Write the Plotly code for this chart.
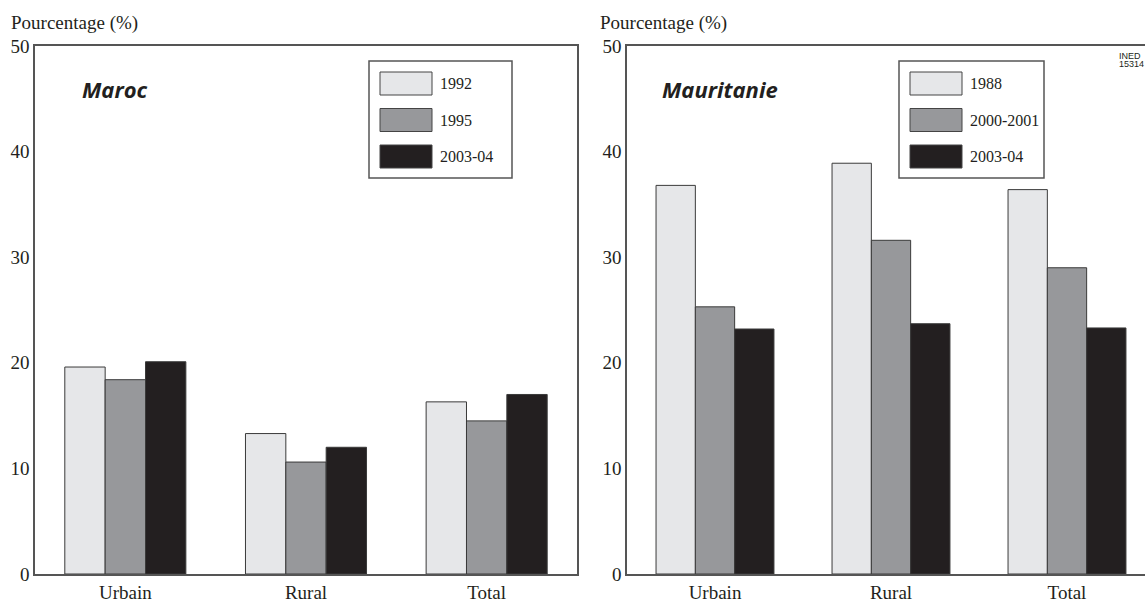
import plotly.graph_objects as go
from plotly.subplots import make_subplots

# Données
categories = ["Urbain", "Rural", "Total"]

maroc_series = ["1992", "1995", "2003-04"]
maroc_1992 = [19.6, 13.3, 16.3]
maroc_1995 = [18.4, 10.6, 14.5]
maroc_2003 = [20.1, 12.0, 17.0]

maur_series = ["1988", "2000-2001", "2003-04"]
maur_1988 = [36.8, 38.9, 36.4]
maur_2000 = [25.3, 31.6, 29.0]
maur_2003 = [23.2, 23.7, 23.3]

couleurs = ["#e6e7e9", "#97989b", "#231f20"]
y_ticks = [0, 10, 20, 30, 40, 50]

# Mise en page (pixels -> coordonnées papier)
W, H = 1145, 604
ML, MR, MT, MB = 35, 0, 46, 30
PW, PH = W - ML - MR, H - MT - MB


def px_x(px):
    return (px - ML) / PW


def px_y(py):
    return (H - MB - py) / PH


serif = "Liberation Serif"
texte = "#231f20"
cadre = "#555555"

fig = make_subplots(rows=1, cols=2)

for valeurs, nom, coul in zip([maroc_1992, maroc_1995, maroc_2003], maroc_series, couleurs):
    fig.add_trace(
        go.Bar(
            x=categories,
            y=valeurs,
            name=nom,
            marker_color=coul,
            marker_line_color="#3a3a3a",
            marker_line_width=1,
            showlegend=False,
        ),
        row=1,
        col=1,
    )

for valeurs, nom, coul in zip([maur_1988, maur_2000, maur_2003], maur_series, couleurs):
    fig.add_trace(
        go.Bar(
            x=categories,
            y=valeurs,
            name=nom,
            marker_color=coul,
            marker_line_color="#3a3a3a",
            marker_line_width=1,
            showlegend=False,
        ),
        row=1,
        col=2,
    )

axe_x = dict(
    showline=True,
    linecolor=cadre,
    linewidth=1.5,
    mirror=True,
    ticks="",
    showgrid=False,
    zeroline=False,
    tickfont=dict(family=serif, size=19, color=texte),
)
axe_y = dict(
    range=[0, 50],
    tickvals=y_ticks,
    showline=True,
    linecolor=cadre,
    linewidth=1.5,
    ticks="",
    showgrid=False,
    zeroline=False,
    tickfont=dict(family=serif, size=19, color=texte),
)

fig.update_layout(
    width=W,
    height=H,
    margin=dict(l=ML, r=MR, t=MT, b=MB),
    paper_bgcolor="white",
    plot_bgcolor="white",
    barmode="group",
    bargap=0.33,
    bargroupgap=0,
    xaxis=dict(axe_x, domain=[0, px_x(577)], range=[-0.5, 2.5]),
    xaxis2=dict(axe_x, domain=[px_x(627), 1], range=[-0.5, -0.5 + (W - 627) / 176]),
    yaxis=dict(axe_y, mirror=True),
    yaxis2=dict(axe_y, mirror=False),
)

# Titres
annotations = []
for x0, pays in [(80, "Maroc"), (660, "Mauritanie")]:
    annotations.append(dict(
        text=pays, xref="paper", yref="paper", x=px_x(x0), y=px_y(89),
        xanchor="left", yanchor="middle", showarrow=False,
        font=dict(family="Open Sans", size=22, color=texte, weight="bold", style="italic"),
    ))
for x0 in [9, 598]:
    annotations.append(dict(
        text="Pourcentage (%)", xref="paper", yref="paper", x=px_x(x0), y=px_y(23),
        xanchor="left", yanchor="middle", showarrow=False,
        font=dict(family=serif, size=19, color=texte),
    ))
annotations.append(dict(
    text="INED", xref="paper", yref="paper", x=px_x(1117), y=px_y(56),
    xanchor="left", yanchor="middle", showarrow=False,
    font=dict(family="Liberation Sans", size=9, color=texte),
))
annotations.append(dict(
    text="15314", xref="paper", yref="paper", x=px_x(1117), y=px_y(64),
    xanchor="left", yanchor="middle", showarrow=False,
    font=dict(family="Liberation Sans", size=9, color=texte),
))

# Légendes dessinées
shapes = []
for bx0, bx1, noms in [(369, 512, maroc_series), (899, 1044, maur_series)]:
    shapes.append(dict(
        type="rect", xref="paper", yref="paper",
        x0=px_x(bx0), x1=px_x(bx1), y0=px_y(178), y1=px_y(61),
        line=dict(color=cadre, width=1.5), fillcolor="white", layer="above",
    ))
    for i, (nom, coul) in enumerate(zip(noms, couleurs)):
        top = 72 + 36.5 * i
        shapes.append(dict(
            type="rect", xref="paper", yref="paper",
            x0=px_x(bx0 + 11), x1=px_x(bx0 + 63), y0=px_y(top + 23), y1=px_y(top),
            line=dict(color="#444444", width=1), fillcolor=coul, layer="above",
        ))
        annotations.append(dict(
            text=nom, xref="paper", yref="paper", x=px_x(bx0 + 69), y=px_y(top + 11.5),
            xanchor="left", yanchor="middle", showarrow=False,
            font=dict(family=serif, size=16, color=texte),
        ))

fig.update_layout(annotations=annotations, shapes=shapes)

# pas de marge de page autour de la figure, pas de barre d'outils
fig.write_html(
    "out.html",
    config={"displayModeBar": False},
    post_script="document.body.style.margin='0';document.body.style.overflow='hidden';",
)
